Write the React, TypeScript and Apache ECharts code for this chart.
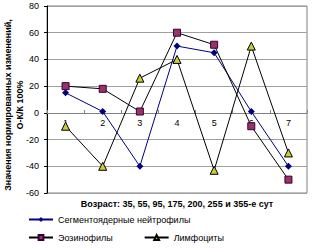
import React, { useEffect, useRef } from "react";
import * as echarts from "echarts";

const categories = ["1", "2", "3", "4", "5", "6", "7"];
const neutrophils = [15, 1, -40, 50, 45, 1, -40];
const eosinophils = [20, 18, 1, 60, 51, -10, -50];
const lymphocytes = [-10, -40, 26, 40, -43, 50, -30];
const seriesNames = ["Сегментоядерные нейтрофилы", "Эозинофилы", "Лимфоциты"];
const xTitle = "Возраст: 35, 55, 95, 175, 200, 255 и 355-е сут";
const yTitle1 = "Значения нормированных изменений,";
const yTitle2 = "О-К/К 100%";

const FONT = "Liberation Sans, Arial, sans-serif";

export default function App() {
  const ref = useRef<HTMLDivElement>(null);
  useEffect(() => {
    if (!ref.current) return;
    const chart = echarts.init(ref.current, undefined, { renderer: "svg" });
    chart.setOption({
      animation: false,
      backgroundColor: "#ffffff",
      textStyle: { fontFamily: FONT },
      grid: {
        left: 47,
        right: 7,
        top: 6,
        bottom: 55,
        containLabel: false,
        show: true,
        borderColor: "#808080",
        borderWidth: 1,
      },
      xAxis: {
        type: "category",
        data: categories,
        boundaryGap: true,
        offset: -80,
        axisLine: { onZero: false, lineStyle: { color: "#808080", width: 1 } },
        axisTick: { show: true, length: 3, inside: true, lineStyle: { color: "#808080" } },
        axisLabel: { fontSize: 9, color: "#000", margin: 5, fontFamily: FONT },
        splitLine: { show: false },
      },
      yAxis: {
        type: "value",
        min: -60,
        max: 80,
        interval: 20,
        axisLine: { show: true, onZero: false, lineStyle: { color: "#000", width: 1 } },
        axisTick: { show: true, length: 3, lineStyle: { color: "#000" } },
        axisLabel: { fontSize: 9, color: "#000", margin: 8, fontFamily: FONT },
        splitLine: { show: true, lineStyle: { color: "#a0a0a0", width: 1 } },
      },
      legend: [
        {
          data: [seriesNames[0]],
          left: 28,
          top: 215,
          itemWidth: 24,
          itemHeight: 6,
          itemGap: 10,
          textStyle: { fontSize: 9, color: "#000", fontFamily: FONT },
          padding: 0,
        },
        {
          data: [seriesNames[1], seriesNames[2]],
          left: 28,
          top: 233,
          itemWidth: 24,
          itemHeight: 6,
          itemGap: 31,
          textStyle: { fontSize: 9, color: "#000", fontFamily: FONT },
          padding: 0,
        },
      ],
      graphic: [
        {
          type: "text",
          x: 177,
          y: 204,
          style: {
            text: xTitle,
            font: `bold 9px ${FONT}`,
            fill: "#000",
            align: "center",
            verticalAlign: "middle",
          },
        },
        {
          type: "text",
          x: 14,
          y: 105,
          rotation: Math.PI / 2,
          style: {
            text: yTitle1 + "\n" + yTitle2,
            font: `bold 9px ${FONT}`,
            fill: "#000",
            align: "center",
            verticalAlign: "middle",
            lineHeight: 12,
          },
        },
      ],
      series: [
        {
          name: seriesNames[0],
          type: "line",
          data: neutrophils,
          symbol: "diamond",
          symbolSize: 7,
          itemStyle: { color: "#000080" },
          lineStyle: { color: "#000080", width: 1 },
        },
        {
          name: seriesNames[1],
          type: "line",
          data: eosinophils,
          symbol: "rect",
          symbolSize: 7,
          itemStyle: { color: "#993366", borderColor: "#330033", borderWidth: 1 },
          lineStyle: { color: "#000", width: 1 },
        },
        {
          name: seriesNames[2],
          type: "line",
          data: lymphocytes,
          symbol: "triangle",
          symbolSize: 8,
          itemStyle: { color: "#cccc33", borderColor: "#000", borderWidth: 1 },
          lineStyle: { color: "#000", width: 1 },
        },
      ],
    });
    return () => chart.dispose();
  }, []);
  return (
    <div
      ref={ref}
      style={{ position: "fixed", left: 0, top: 0, width: 314, height: 248 }}
    />
  );
}
